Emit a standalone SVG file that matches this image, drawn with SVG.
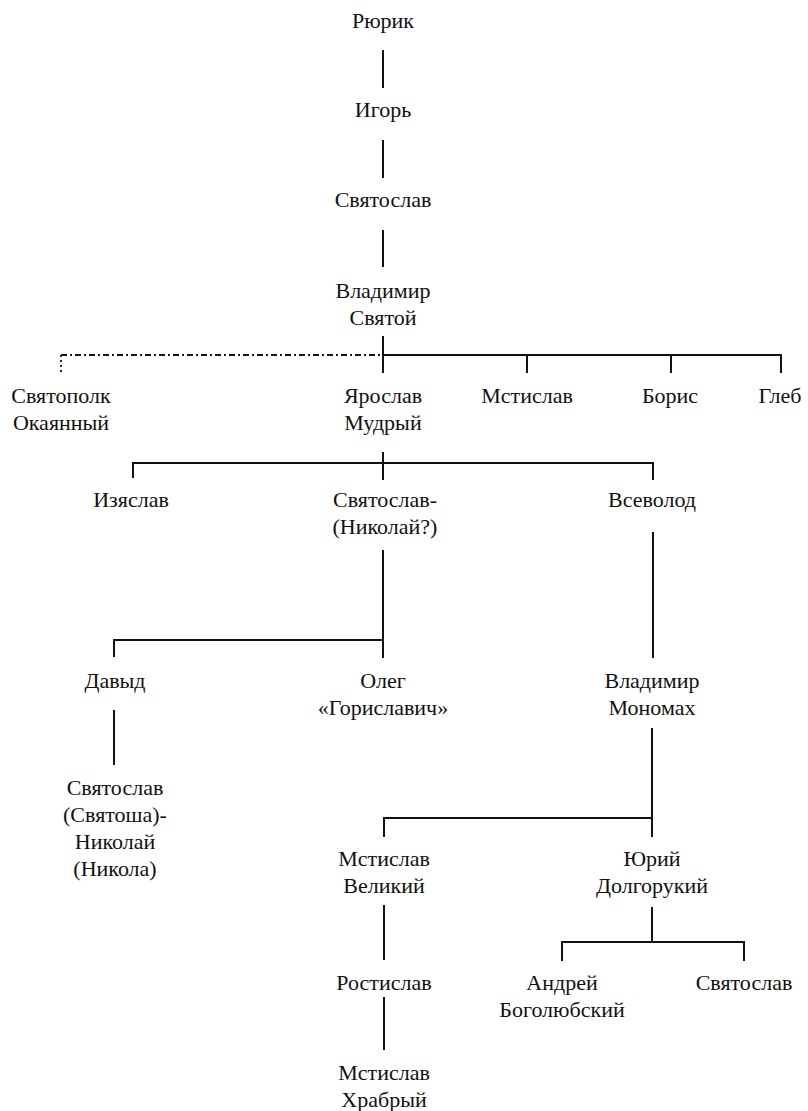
<svg xmlns="http://www.w3.org/2000/svg" width="808" height="1111" viewBox="0 0 808 1111">
<style>
text{font-family:"Liberation Serif","Times New Roman",serif;font-size:22px;fill:#111;text-anchor:middle}
.c line,.c path{stroke:#111;stroke-width:2;fill:none}
.c .dd{stroke-dasharray:6 3 2 3;stroke-width:1.8}
.c .dot{stroke-dasharray:2 3;stroke-width:1.8}
</style>
<rect width="808" height="1111" fill="#fff"/>
<g class="c" id="connectors">
<line x1="383" y1="50" x2="383" y2="88"/>
<line x1="383" y1="140" x2="383" y2="178"/>
<line x1="383" y1="230" x2="383" y2="267"/>
<line x1="383" y1="336" x2="383" y2="373"/>
<line class="dd" x1="61" y1="355" x2="383" y2="355"/>
<line class="dot" x1="61" y1="355" x2="61" y2="374"/>
<path d="M383 355H781V373M527 355V373M671 355V373"/>
<line x1="383" y1="452" x2="383" y2="480"/>
<path d="M133 478V463H653V480"/>
<line x1="383" y1="550" x2="383" y2="658"/>
<path d="M114 657V640H383"/>
<line x1="653" y1="532" x2="653" y2="658"/>
<line x1="114" y1="710" x2="114" y2="765"/>
<line x1="652" y1="728" x2="652" y2="837"/>
<path d="M384 837V818H652"/>
<line x1="384" y1="905" x2="384" y2="960"/>
<line x1="384" y1="997" x2="384" y2="1050"/>
<line x1="652" y1="907" x2="652" y2="942"/>
<path d="M562 961V942H744V961"/>
</g>
<g id="rurik"><text x="383" y="28">Рюрик</text></g>
<g id="igor"><text x="383" y="117">Игорь</text></g>
<g id="svyatoslav1"><text x="383" y="207">Святослав</text></g>
<g id="vladimir1"><text x="383" y="298">Владимир</text><text x="383" y="325">Святой</text></g>
<g id="svyatopolk"><text x="61" y="403">Святополк</text><text x="61" y="430">Окаянный</text></g>
<g id="yaroslav"><text x="383" y="403">Ярослав</text><text x="383" y="430">Мудрый</text></g>
<g id="mstislav1"><text x="527" y="403">Мстислав</text></g>
<g id="boris"><text x="670" y="403">Борис</text></g>
<g id="gleb"><text x="780" y="403">Глеб</text></g>
<g id="izyaslav"><text x="131" y="507">Изяслав</text></g>
<g id="svyatoslav2"><text x="385" y="507">Святослав-</text><text x="385" y="534">(Николай?)</text></g>
<g id="vsevolod"><text x="652" y="507">Всеволод</text></g>
<g id="davyd"><text x="115" y="688">Давыд</text></g>
<g id="oleg"><text x="383" y="688">Олег</text><text x="383" y="715">«Гориславич»</text></g>
<g id="monomakh"><text x="652" y="688">Владимир</text><text x="652" y="715">Мономах</text></g>
<g id="svyatosha"><text x="115" y="795">Святослав</text><text x="115" y="822">(Святоша)-</text><text x="115" y="849">Николай</text><text x="115" y="876">(Никола)</text></g>
<g id="mstislav2"><text x="384" y="866">Мстислав</text><text x="384" y="893">Великий</text></g>
<g id="yuri"><text x="652" y="866">Юрий</text><text x="652" y="893">Долгорукий</text></g>
<g id="rostislav"><text x="384" y="990">Ростислав</text></g>
<g id="andrei"><text x="562" y="990">Андрей</text><text x="562" y="1017">Боголюбский</text></g>
<g id="svyatoslav3"><text x="744" y="990">Святослав</text></g>
<g id="mstislav3"><text x="384" y="1080">Мстислав</text><text x="384" y="1107">Храбрый</text></g>
</svg>
